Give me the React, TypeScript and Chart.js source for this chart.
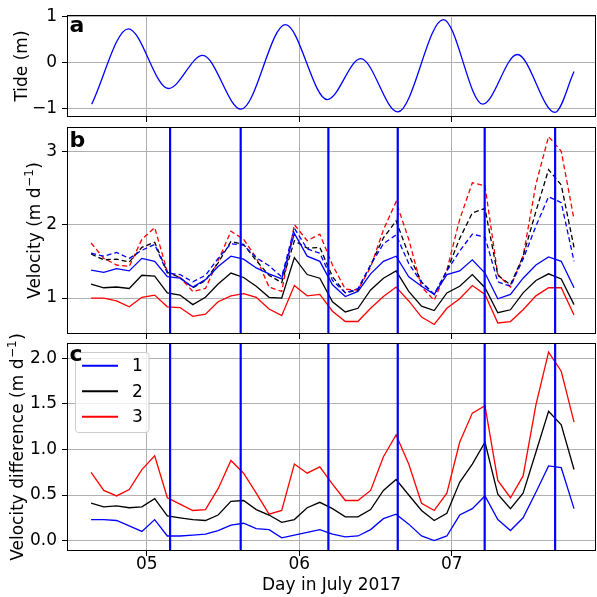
import React, { useEffect, useRef } from 'react';
import { Chart, registerables } from 'chart.js';

Chart.register(...registerables);
Chart.defaults.font.family = "'DejaVu Sans', sans-serif";
Chart.defaults.color = '#000';

// ---------- data ----------
const sampleDays = [
  4.635, 4.718, 4.802, 4.885, 4.968, 5.052, 5.135, 5.218, 5.302, 5.385,
  5.468, 5.552, 5.635, 5.718, 5.802, 5.885, 5.968, 6.052, 6.135, 6.218,
  6.302, 6.385, 6.468, 6.552, 6.635, 6.718, 6.802, 6.885, 6.968, 7.052,
  7.135, 7.218, 7.302, 7.385, 7.468, 7.552, 7.635, 7.718, 7.802,
];

const tideDays = [4.639, 4.879, 5.142, 5.367, 5.618, 5.909, 6.184, 6.403, 6.646, 6.945, 7.203, 7.430, 7.677, 7.802];
const tideLevels = [-0.91, 0.73, -0.57, 0.15, -1.02, 0.82, -0.81, 0.08, -1.08, 0.93, -0.91, 0.17, -1.09, -0.2];

const lowTideDays = [5.153, 5.616, 6.191, 6.646, 7.216, 7.678];

const velocity1 = [1.38, 1.35, 1.40, 1.37, 1.54, 1.50, 1.29, 1.27, 1.15, 1.25, 1.43, 1.57, 1.53, 1.41, 1.33, 1.26, 1.88, 1.57, 1.50, 1.18, 1.02, 1.09, 1.33, 1.50, 1.57, 1.29, 1.16, 1.05, 1.32, 1.37, 1.52, 1.34, 0.99, 1.05, 1.27, 1.45, 1.56, 1.50, 1.14];
const velocity2 = [1.19, 1.14, 1.15, 1.13, 1.31, 1.30, 1.07, 1.04, 0.91, 1.01, 1.19, 1.34, 1.28, 1.16, 1.01, 1.00, 1.55, 1.32, 1.27, 0.95, 0.81, 0.86, 1.11, 1.27, 1.37, 1.09, 0.89, 0.83, 1.07, 1.16, 1.32, 1.14, 0.80, 0.84, 1.07, 1.24, 1.33, 1.26, 0.91];
const velocity3 = [1.00, 1.00, 0.96, 0.88, 1.01, 1.04, 0.88, 0.87, 0.75, 0.78, 0.95, 1.03, 1.06, 1.01, 0.85, 0.76, 1.17, 1.03, 1.05, 0.82, 0.68, 0.68, 0.86, 1.02, 1.15, 0.96, 0.74, 0.64, 0.86, 0.99, 1.17, 1.05, 0.66, 0.68, 0.84, 1.03, 1.14, 1.14, 0.77];

const velocity1Dashed = [1.61, 1.57, 1.62, 1.54, 1.65, 1.73, 1.34, 1.32, 1.22, 1.31, 1.54, 1.74, 1.72, 1.55, 1.44, 1.29, 1.95, 1.67, 1.61, 1.24, 1.07, 1.13, 1.45, 1.74, 1.86, 1.47, 1.21, 1.05, 1.37, 1.64, 1.87, 1.83, 1.22, 1.16, 1.53, 1.98, 2.38, 2.30, 1.50];
const velocity2Dashed = [1.60, 1.52, 1.53, 1.49, 1.69, 1.76, 1.35, 1.28, 1.14, 1.24, 1.48, 1.77, 1.73, 1.51, 1.31, 1.21, 1.78, 1.68, 1.69, 1.29, 1.07, 1.11, 1.45, 1.82, 2.05, 1.59, 1.22, 1.05, 1.37, 1.81, 2.16, 2.22, 1.31, 1.18, 1.57, 2.18, 2.75, 2.54, 1.69];
const velocity3Dashed = [1.75, 1.54, 1.45, 1.43, 1.80, 1.96, 1.36, 1.28, 1.09, 1.13, 1.51, 1.91, 1.80, 1.55, 1.15, 1.09, 2.00, 1.78, 1.87, 1.45, 1.12, 1.11, 1.42, 1.93, 2.31, 1.80, 1.15, 0.97, 1.38, 2.07, 2.57, 2.53, 1.32, 1.15, 1.57, 2.55, 3.20, 3.00, 2.07];

const difference1 = [0.23, 0.23, 0.22, 0.16, 0.10, 0.23, 0.05, 0.05, 0.06, 0.07, 0.11, 0.17, 0.19, 0.13, 0.12, 0.03, 0.06, 0.09, 0.12, 0.07, 0.04, 0.05, 0.12, 0.24, 0.29, 0.18, 0.05, 0.00, 0.05, 0.28, 0.35, 0.49, 0.23, 0.11, 0.25, 0.53, 0.82, 0.80, 0.35];
const difference2 = [0.41, 0.37, 0.38, 0.36, 0.37, 0.46, 0.27, 0.25, 0.23, 0.22, 0.28, 0.43, 0.44, 0.34, 0.28, 0.20, 0.23, 0.36, 0.42, 0.35, 0.26, 0.26, 0.34, 0.55, 0.67, 0.50, 0.33, 0.22, 0.30, 0.64, 0.84, 1.08, 0.51, 0.35, 0.52, 0.97, 1.42, 1.27, 0.78];
const difference3 = [0.75, 0.55, 0.49, 0.56, 0.78, 0.93, 0.47, 0.40, 0.33, 0.34, 0.57, 0.88, 0.74, 0.52, 0.29, 0.33, 0.84, 0.74, 0.81, 0.62, 0.44, 0.44, 0.55, 0.92, 1.16, 0.84, 0.41, 0.33, 0.52, 1.08, 1.40, 1.48, 0.66, 0.47, 0.71, 1.49, 2.07, 1.86, 1.30];

const seriesNames = ['1', '2', '3'];
const seriesColors = ['#0000ff', '#000000', '#ff0000'];

const dayTicks = [5, 6, 7];
const dayTickLabels = ['05', '06', '07'];
const tideTicks = [-1, 0, 1];
const velocityTicks = [1, 2, 3];
const differenceTicks = [0, 0.5, 1.0, 1.5, 2.0];

// ---------- layout constants ----------
const X_MIN = 4.477;
const X_MAX = 7.946;
const W = 597;
const FS = 17;

const pts = (xs: number[], ys: number[]) => xs.map((x, i) => ({ x, y: ys[i] }));

function line(label: string, xs: number[], ys: number[], color: string, dashed = false, extra: any = {}) {
  return {
    label,
    data: pts(xs, ys),
    borderColor: color,
    backgroundColor: color,
    borderWidth: 1.3,
    borderDash: dashed ? [5, 3] : [],
    pointRadius: 0,
    fill: false,
    tension: 0,
    ...extra,
  };
}

type TitleSpec = { main: string; sup?: string; tail?: string; cx: number };

function makeDecor(cfg: { letter: string; letterDy: number; vlines: number[]; legend?: boolean; title: TitleSpec }) {
  return {
    id: 'decor',
    afterDatasetsDraw(chart: any) {
      const { ctx, chartArea: a, scales } = chart;
      ctx.save();
      ctx.beginPath();
      ctx.rect(a.left, a.top, a.right - a.left, a.bottom - a.top);
      ctx.clip();
      ctx.strokeStyle = '#0000ff';
      ctx.lineWidth = 2.2;
      for (const t of cfg.vlines) {
        const x = scales.x.getPixelForValue(t);
        ctx.beginPath();
        ctx.moveTo(x, a.top);
        ctx.lineTo(x, a.bottom);
        ctx.stroke();
      }
      ctx.restore();

      if (cfg.legend) {
        ctx.save();
        const bx = a.left + 8.5;
        const by = a.top + 9.5;
        const bw = 73.5;
        const bh = 80;
        ctx.beginPath();
        if ((ctx as any).roundRect) (ctx as any).roundRect(bx, by, bw, bh, 3);
        else ctx.rect(bx, by, bw, bh);
        ctx.fillStyle = 'rgba(255,255,255,0.8)';
        ctx.fill();
        ctx.strokeStyle = '#cccccc';
        ctx.lineWidth = 1;
        ctx.stroke();
        ctx.font = `${FS}px 'DejaVu Sans'`;
        ctx.textBaseline = 'middle';
        ctx.textAlign = 'left';
        seriesNames.forEach((name, i) => {
          const y = a.top + 22.7 + i * 25.5;
          ctx.strokeStyle = seriesColors[i];
          ctx.lineWidth = 2;
          ctx.beginPath();
          ctx.moveTo(a.left + 15, y);
          ctx.lineTo(a.left + 51, y);
          ctx.stroke();
          ctx.fillStyle = '#000';
          ctx.fillText(name, a.left + 65, y + 1);
        });
        ctx.restore();
      }

      ctx.save();
      ctx.strokeStyle = '#000';
      ctx.lineWidth = 1;
      ctx.strokeRect(Math.round(a.left) + 0.5, Math.round(a.top) + 0.5, Math.round(a.right - a.left) - 1, Math.round(a.bottom - a.top) - 1);
      ctx.font = "bold 22px 'DejaVu Sans'";
      ctx.fillStyle = '#000';
      ctx.textBaseline = 'alphabetic';
      ctx.textAlign = 'left';
      ctx.fillText(cfg.letter, a.left + 2.5, a.top + cfg.letterDy);
      ctx.restore();

      // rotated y-axis title with optional superscript
      const t = cfg.title;
      ctx.save();
      ctx.translate(t.cx, (a.top + a.bottom) / 2);
      ctx.rotate(-Math.PI / 2);
      ctx.fillStyle = '#000';
      ctx.textBaseline = 'middle';
      ctx.textAlign = 'left';
      const mainFont = `${FS}px 'DejaVu Sans'`;
      const supFont = `12px 'DejaVu Sans'`;
      ctx.font = mainFont;
      const w1 = ctx.measureText(t.main).width;
      const w3 = t.tail ? ctx.measureText(t.tail).width : 0;
      ctx.font = supFont;
      const w2 = t.sup ? ctx.measureText(t.sup).width + 1 : 0;
      let x = -(w1 + w2 + w3) / 2;
      ctx.font = mainFont;
      ctx.fillText(t.main, x, 1);
      x += w1;
      if (t.sup) {
        ctx.font = supFont;
        ctx.fillText(t.sup, x + 0.5, -5);
        x += w2;
      }
      if (t.tail) {
        ctx.font = mainFont;
        ctx.fillText(t.tail, x, 1);
      }
      ctx.restore();
    },
  };
}

function makeConfig(p: {
  datasets: any[];
  yMin: number;
  yMax: number;
  yTicks: number[];
  yFmt: (v: number) => string;
  padTop: number;
  xHeight: number;
  showXLabels: boolean;
  decor: any;
}) {
  return {
    type: 'line',
    data: { datasets: p.datasets },
    options: {
      animation: false,
      responsive: false,
      devicePixelRatio: 1,
      events: [],
      layout: { padding: { top: p.padTop, right: 1, bottom: 0, left: 0 } },
      plugins: { legend: { display: false }, tooltip: { enabled: false } },
      scales: {
        x: {
          type: 'linear',
          min: X_MIN,
          max: X_MAX,
          afterBuildTicks: (s: any) => {
            s.ticks = dayTicks.map((v) => ({ value: v }));
          },
          afterFit: (s: any) => {
            s.height = p.xHeight;
            s.paddingLeft = 0;
            s.paddingRight = 0;
          },
          ticks: {
            autoSkip: false,
            maxRotation: 0,
            padding: 0,
            color: '#000',
            font: { size: FS, lineHeight: 1 },
            callback: (v: any) => (p.showXLabels ? dayTickLabels[dayTicks.indexOf(Number(v))] ?? '' : ''),
          },
          grid: { color: '#b0b0b0', lineWidth: 1, tickColor: '#000', tickLength: 5, drawTicks: true },
          border: { display: false },
          title: {
            display: p.showXLabels,
            text: 'Day in July 2017',
            color: '#000',
            font: { size: FS },
            padding: { top: 0, bottom: 0.8 },
          },
        },
        y: {
          type: 'linear',
          min: p.yMin,
          max: p.yMax,
          afterBuildTicks: (s: any) => {
            s.ticks = p.yTicks.map((v) => ({ value: v }));
          },
          afterFit: (s: any) => {
            s.width = 67;
            s.paddingTop = 0;
            s.paddingBottom = 0;
          },
          ticks: {
            autoSkip: false,
            padding: 5,
            color: '#000',
            font: { size: FS },
            callback: (v: any) => p.yFmt(Number(v)),
          },
          grid: { color: '#b0b0b0', lineWidth: 1, tickColor: '#000', tickLength: 5, drawTicks: true },
          border: { display: false },
        },
      },
    },
    plugins: [p.decor],
  };
}

function Panel({ top, height, build }: { top: number; height: number; build: () => any }) {
  const ref = useRef<HTMLCanvasElement>(null);
  useEffect(() => {
    const chart = new Chart(ref.current as HTMLCanvasElement, build());
    return () => chart.destroy();
  }, []);
  return (
    <canvas
      ref={ref}
      width={W}
      height={height}
      style={{ position: 'absolute', left: 0, top, width: W, height, display: 'block' }}
    />
  );
}

const buildTide = () =>
  makeConfig({
    datasets: [line('tide', tideDays, tideLevels, '#0000ff', false, { cubicInterpolationMode: 'monotone' })],
    yMin: -1.19,
    yMax: 1.03,
    yTicks: tideTicks,
    yFmt: (v) => (v < 0 ? '\u2212' + Math.abs(v) : String(v)),
    padTop: 15,
    xHeight: 5,
    showXLabels: false,
    decor: makeDecor({ letter: 'a', letterDy: 16.7, vlines: [], title: { main: 'Tide (m)', cx: 22 } }),
  });

const buildVelocity = () =>
  makeConfig({
    datasets: [
      line('1', sampleDays, velocity1, seriesColors[0]),
      line('2', sampleDays, velocity2, seriesColors[1]),
      line('3', sampleDays, velocity3, seriesColors[2]),
      line('1 dashed', sampleDays, velocity1Dashed, seriesColors[0], true),
      line('2 dashed', sampleDays, velocity2Dashed, seriesColors[1], true),
      line('3 dashed', sampleDays, velocity3Dashed, seriesColors[2], true),
    ],
    yMin: 0.51,
    yMax: 3.33,
    yTicks: velocityTicks,
    yFmt: (v) => String(v),
    padTop: 10,
    xHeight: 5,
    showXLabels: false,
    decor: makeDecor({
      letter: 'b',
      letterDy: 19.7,
      vlines: lowTideDays,
      title: { main: 'Velocity (m d', sup: '\u22121', tail: ')', cx: 35 },
    }),
  });

const buildDifference = () =>
  makeConfig({
    datasets: [
      line('1', sampleDays, difference1, seriesColors[0]),
      line('2', sampleDays, difference2, seriesColors[1]),
      line('3', sampleDays, difference3, seriesColors[2]),
    ],
    yMin: -0.115,
    yMax: 2.17,
    yTicks: differenceTicks,
    yFmt: (v) => v.toFixed(1),
    padTop: 10,
    xHeight: 46,
    showXLabels: true,
    decor: makeDecor({
      letter: 'c',
      letterDy: 17.7,
      vlines: lowTideDays,
      legend: true,
      title: { main: 'Velocity difference (m d', sup: '\u22121', tail: ')', cx: 18 },
    }),
  });

export default function App() {
  return (
    <div style={{ position: 'fixed', left: 0, top: 0, width: W, height: 597, background: '#fff', overflow: 'hidden' }}>
      <Panel top={0} height={122} build={buildTide} />
      <Panel top={117} height={222} build={buildVelocity} />
      <Panel top={333} height={264} build={buildDifference} />
    </div>
  );
}
